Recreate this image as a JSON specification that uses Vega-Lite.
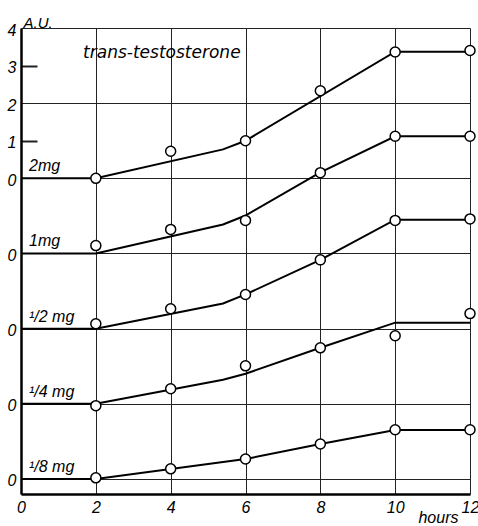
{
  "$schema": "https://vega.github.io/schema/vega-lite/v6.json",
  "width": 449,
  "height": 466,
  "autosize": {"type": "none"},
  "padding": {"left": 21, "top": 28, "right": 8, "bottom": 32},
  "background": "white",
  "config": {"view": {"stroke": null}, "font": "Liberation Sans"},
  "datasets": {
    "curves": [
      {"series": "2mg", "label": "2mg", "base": 8},
      {"series": "1mg", "label": "1mg", "base": 6},
      {"series": "1/2mg", "label": "¹/2 mg", "base": 4},
      {"series": "1/4mg", "label": "¹/4 mg", "base": 2},
      {"series": "1/8mg", "label": "¹/8 mg", "base": 0}
    ],
    "obs": [
      {"series": "2mg", "hours": 2, "au": 0},
      {"series": "2mg", "hours": 4, "au": 0.72},
      {"series": "2mg", "hours": 6, "au": 1.0},
      {"series": "2mg", "hours": 8, "au": 2.33},
      {"series": "2mg", "hours": 10, "au": 3.36},
      {"series": "2mg", "hours": 12, "au": 3.4},
      {"series": "1mg", "hours": 2, "au": 0.21},
      {"series": "1mg", "hours": 4, "au": 0.64},
      {"series": "1mg", "hours": 6, "au": 0.88},
      {"series": "1mg", "hours": 8, "au": 2.15},
      {"series": "1mg", "hours": 10, "au": 3.12},
      {"series": "1mg", "hours": 12, "au": 3.12},
      {"series": "1/2mg", "hours": 2, "au": 0.13},
      {"series": "1/2mg", "hours": 4, "au": 0.53},
      {"series": "1/2mg", "hours": 6, "au": 0.91},
      {"series": "1/2mg", "hours": 8, "au": 1.83},
      {"series": "1/2mg", "hours": 10, "au": 2.88},
      {"series": "1/2mg", "hours": 12, "au": 2.92},
      {"series": "1/4mg", "hours": 2, "au": -0.05},
      {"series": "1/4mg", "hours": 4, "au": 0.4},
      {"series": "1/4mg", "hours": 6, "au": 1.01},
      {"series": "1/4mg", "hours": 8, "au": 1.49},
      {"series": "1/4mg", "hours": 10, "au": 1.81},
      {"series": "1/4mg", "hours": 12, "au": 2.4},
      {"series": "1/8mg", "hours": 2, "au": 0.03},
      {"series": "1/8mg", "hours": 4, "au": 0.27},
      {"series": "1/8mg", "hours": 6, "au": 0.53},
      {"series": "1/8mg", "hours": 8, "au": 0.93},
      {"series": "1/8mg", "hours": 10, "au": 1.31},
      {"series": "1/8mg", "hours": 12, "au": 1.31}
    ],
    "fit": [
      {"series": "2mg", "hours": 0, "au": 0},
      {"series": "2mg", "hours": 2, "au": 0},
      {"series": "2mg", "hours": 5.4, "au": 0.77},
      {"series": "2mg", "hours": 6, "au": 1.0},
      {"series": "2mg", "hours": 10, "au": 3.37},
      {"series": "2mg", "hours": 12, "au": 3.37},
      {"series": "1mg", "hours": 0, "au": 0},
      {"series": "1mg", "hours": 2, "au": 0},
      {"series": "1mg", "hours": 5.4, "au": 0.77},
      {"series": "1mg", "hours": 6, "au": 1.01},
      {"series": "1mg", "hours": 8, "au": 2.16},
      {"series": "1mg", "hours": 10, "au": 3.12},
      {"series": "1mg", "hours": 12, "au": 3.12},
      {"series": "1/2mg", "hours": 0, "au": 0},
      {"series": "1/2mg", "hours": 2, "au": 0},
      {"series": "1/2mg", "hours": 5.4, "au": 0.67},
      {"series": "1/2mg", "hours": 6, "au": 0.91},
      {"series": "1/2mg", "hours": 8, "au": 1.83},
      {"series": "1/2mg", "hours": 10, "au": 2.9},
      {"series": "1/2mg", "hours": 12, "au": 2.9},
      {"series": "1/4mg", "hours": 0, "au": 0},
      {"series": "1/4mg", "hours": 2, "au": 0},
      {"series": "1/4mg", "hours": 5.4, "au": 0.64},
      {"series": "1/4mg", "hours": 6, "au": 0.8},
      {"series": "1/4mg", "hours": 8, "au": 1.49},
      {"series": "1/4mg", "hours": 10, "au": 2.16},
      {"series": "1/4mg", "hours": 12, "au": 2.16},
      {"series": "1/8mg", "hours": 0, "au": 0},
      {"series": "1/8mg", "hours": 2, "au": 0},
      {"series": "1/8mg", "hours": 5.4, "au": 0.45},
      {"series": "1/8mg", "hours": 6, "au": 0.53},
      {"series": "1/8mg", "hours": 8, "au": 0.93},
      {"series": "1/8mg", "hours": 10, "au": 1.3},
      {"series": "1/8mg", "hours": 12, "au": 1.3}
    ]
  },
  "encoding": {
    "x": {
      "type": "quantitative",
      "scale": {"domain": [0, 12], "nice": false, "zero": false},
      "axis": {
        "values": [0, 2, 4, 6, 8, 10, 12],
        "format": "d",
        "title": "hours",
        "titleX": 437,
        "titleAlign": "right",
        "titleFontStyle": "italic",
        "titleFontWeight": "normal",
        "titleFontSize": 16,
        "titleColor": "black",
        "titleY": 28,
        "titleBaseline": "alphabetic",
        "ticks": false,
        "labelPadding": 5,
        "labelFontSize": 16,
        "labelFontStyle": "italic",
        "labelColor": "black",
        "labelFlush": false,
        "labelOverlap": false,
        "grid": true,
        "gridColor": "#222222",
        "gridWidth": 1,
        "gridOpacity": 1,
        "domainColor": "black",
        "domainWidth": 2.5
      }
    },
    "y": {
      "type": "quantitative",
      "scale": {"domain": [-0.4, 12], "nice": false, "zero": false},
      "axis": {
        "values": [0, 2, 4, 6, 8, 9, 10, 11, 12],
        "labelExpr": "datum.value >= 8 ? '' + (datum.value - 8) : (datum.value % 2 === 0 ? '0' : '')",
        "title": "A.U.",
        "titleAngle": 0,
        "titleX": 2,
        "titleY": -1,
        "titleAlign": "left",
        "titleBaseline": "alphabetic",
        "titleFontStyle": "italic",
        "titleFontWeight": "normal",
        "titleFontSize": 15,
        "titleColor": "black",
        "ticks": false,
        "labelPadding": 5,
        "labelOffset": 2,
        "labelFontSize": 16,
        "labelFontStyle": "italic",
        "labelColor": "black",
        "labelBaseline": "middle",
        "labelFlush": false,
        "labelOverlap": false,
        "grid": true,
        "gridColor": "#222222",
        "gridOpacity": 1,
        "gridWidth": {"condition": {"test": "datum.value % 2 === 1", "value": 2}, "value": 1},
        "gridDash": {"condition": {"test": "datum.value % 2 === 1", "value": [16, 2000]}, "value": []},
        "domainColor": "black",
        "domainWidth": 2.5
      }
    }
  },
  "layer": [
    {
      "data": {"name": "fit"},
      "transform": [
        {"lookup": "series", "from": {"data": {"name": "curves"}, "key": "series", "fields": ["base"]}},
        {"calculate": "datum.au + datum.base", "as": "y"}
      ],
      "mark": {"type": "line", "color": "black", "strokeWidth": 2},
      "encoding": {
        "x": {"field": "hours"},
        "y": {"field": "y"},
        "detail": {"field": "series"}
      }
    },
    {
      "data": {"name": "obs"},
      "transform": [
        {"lookup": "series", "from": {"data": {"name": "curves"}, "key": "series", "fields": ["base"]}},
        {"calculate": "datum.au + datum.base", "as": "y"}
      ],
      "mark": {"type": "point", "shape": "circle", "filled": true, "fill": "white", "stroke": "black", "strokeWidth": 1.5, "size": 100, "opacity": 1},
      "encoding": {
        "x": {"field": "hours"},
        "y": {"field": "y"}
      }
    },
    {
      "data": {"name": "curves"},
      "mark": {"type": "text", "align": "left", "baseline": "alphabetic", "dx": 8, "dy": -7, "fontSize": 16, "fontStyle": "italic", "color": "black"},
      "encoding": {
        "x": {"datum": 0},
        "y": {"field": "base"},
        "text": {"field": "label"}
      }
    },
    {
      "data": {"values": [{"title": "trans-testosterone"}]},
      "mark": {"type": "text", "align": "left", "baseline": "middle", "font": "DejaVu Sans", "fontStyle": "italic", "fontSize": 17, "color": "black"},
      "encoding": {
        "x": {"datum": 1.66},
        "y": {"datum": 11.33},
        "text": {"field": "title"}
      }
    }
  ]
}
